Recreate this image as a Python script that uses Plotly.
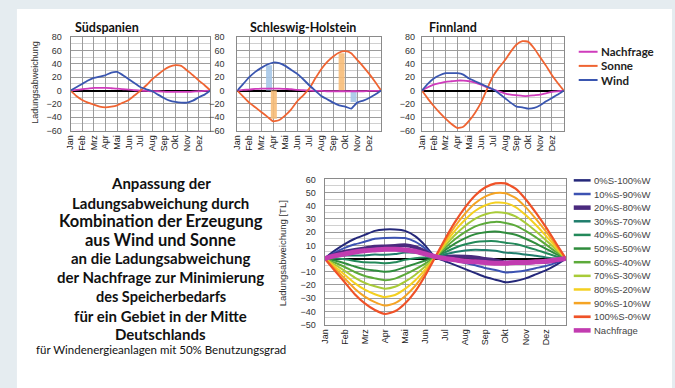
import plotly.graph_objects as go

# ---------------------------------------------------------------- data
MONTHS = ["Jan", "Feb", "Mrz", "Apr", "Mai", "Jun", "Jul", "Aug", "Sep", "Okt", "Nov", "Dez"]
# time axis in months: 0 = 1 Jan, 12 = 31 Dez, half-month steps
t = [0, 0.5, 1, 1.5, 2, 2.5, 3, 3.5, 4, 4.5, 5, 5.5, 6,
     6.5, 7, 7.5, 8, 8.5, 9, 9.5, 10, 10.5, 11, 11.5, 12]

# Südspanien
sp_nachfrage = [0, 1, 2, 3, 4, 4, 4, 3.5, 3, 2, 1.5, 0.5, 0, -0.5, -1, -1, -1.5, -2, -2, -2, -2, -1.5, -1, -0.5, 0]
sp_sonne = [0, -8, -14, -18, -21, -24, -25, -24, -22, -18, -14, -7, 0, 8, 17, 24, 31, 36, 38, 37, 30, 23, 15, 8, 0]
sp_wind = [0, 5, 10, 15, 19, 21, 23, 27, 28, 23, 17, 11, 5, 2, -1, -6, -11, -15, -17, -18, -18, -15, -10, -6, 0]

# Schleswig-Holstein
sh_nachfrage = [0, 1, 1.5, 2.5, 3, 3, 3, 3, 2.5, 2, 1, 0.5, 0, -0.5, -0.5, -1, -1, -1, -1, -1, -1, -1, -0.5, -0.5, 0]
sh_sonne = [0, -9, -18, -25, -32, -39, -46, -44, -37, -28, -16, -7, 3, 18, 32, 43, 51, 57, 59, 56, 46, 36, 25, 13, 0]
sh_wind = [0, 10, 20, 28, 34, 39, 42, 41, 37, 31, 25, 17, 8, 0, -8, -13, -18, -22, -24, -27, -18, -15, -11, -6, 0]
# shaded columns marking the seasonal amplitudes
sh_mark_x = [2.65, 3.05, 8.7, 9.7]
sh_mark_y = [38, -42, 56, -17]
sh_mark_col = ["#a7c8e8", "#f7bd78", "#f7bd78", "#a7c8e8"]

# Finnland
fi_nachfrage = [0, 5, 9, 11, 13, 14, 15, 15, 14, 12, 9, 5, 2, -1, -4, -6, -7, -8, -8, -7, -6, -4, -2, -1, 0]
fi_sonne = [0, -12, -23, -33, -42, -50, -56, -54, -45, -33, -18, 2, 21, 34, 45, 58, 69, 74, 73, 63, 50, 37, 23, 11, 0]
fi_wind = [0, 10, 18, 23, 26, 26, 26, 24, 18, 14, 10, 6, 2, -4, -11, -18, -24, -25, -27, -26, -22, -16, -11, -6, 0]

# Mitte Deutschlands: mixes of solar share S and wind share W
mix_s0_w100 = [0, 6, 11, 15, 18, 21, 22, 22, 21, 17, 10, 1, -2, -5, -8, -11, -14, -16, -18, -17, -15, -12, -9, -5, 0]
mix_s10_w90 = [0, 4.5, 8.1, 10.8, 12.8, 15, 15.6, 15.8, 15.5, 12.8, 7.7, 1, -0.3, -1.7, -3.3, -5.1, -7.2, -8.7, -10.5, -10, -9, -7.3, -5.7, -3.3, 0]
mix_s20_w80 = [0, 3, 5.2, 6.6, 7.6, 9, 9.2, 9.6, 10, 8.6, 5.4, 1, 1.4, 1.6, 1.4, 0.8, -0.4, -1.4, -3, -3, -3, -2.6, -2.4, -1.6, 0]
mix_s30_w70 = [0, 1.5, 2.3, 2.4, 2.4, 3, 2.8, 3.4, 4.5, 4.4, 3.1, 1, 3.1, 4.9, 6.1, 6.7, 6.4, 5.9, 4.5, 4, 3, 2.1, 0.9, 0.1, 0]
mix_s40_w60 = [0, 0, -0.6, -1.8, -2.8, -3, -3.6, -2.8, -1, 0.2, 0.8, 1, 4.8, 8.2, 10.8, 12.6, 13.2, 13.2, 12, 11, 9, 6.8, 4.2, 1.8, 0]
mix_s50_w50 = [0, -1.5, -3.5, -6, -8, -9, -10, -9, -6.5, -4, -1.5, 1, 6.5, 11.5, 15.5, 18.5, 20, 20.5, 19.5, 18, 15, 11.5, 7.5, 3.5, 0]
mix_s60_w40 = [0, -3, -6.4, -10.2, -13.2, -15, -16.4, -15.2, -12, -8.2, -3.8, 1, 8.2, 14.8, 20.2, 24.4, 26.8, 27.8, 27, 25, 21, 16.2, 10.8, 5.2, 0]
mix_s70_w30 = [0, -4.5, -9.3, -14.4, -18.4, -21, -22.8, -21.4, -17.5, -12.4, -6.1, 1, 9.9, 18.1, 24.9, 30.3, 33.6, 35.1, 34.5, 32, 27, 20.9, 14.1, 6.9, 0]
mix_s80_w20 = [0, -6, -12.2, -18.6, -23.6, -27, -29.2, -27.6, -23, -16.6, -8.4, 1, 11.6, 21.4, 29.6, 36.2, 40.4, 42.4, 42, 39, 33, 25.6, 17.4, 8.6, 0]
mix_s90_w10 = [0, -7.5, -15.1, -22.8, -28.8, -33, -35.6, -33.8, -28.5, -20.8, -10.7, 1, 13.3, 24.7, 34.3, 42.1, 47.2, 49.7, 49.5, 46, 39, 30.3, 20.7, 10.3, 0]
mix_s100_w0 = [0, -9, -18, -27, -34, -39, -42, -40, -34, -25, -13, 1, 15, 28, 39, 48, 54, 57, 57, 53, 45, 35, 24, 12, 0]
de_nachfrage = [0, 2, 3.5, 5, 6, 6.5, 7, 7, 6.5, 5.5, 3.5, 1.5, 0, -1, -2, -2.5, -3, -3.5, -3.5, -3, -3, -2.5, -2, -1, 0]

mix_names = ["0%S-100%W", "10%S-90%W", "20%S-80%W", "30%S-70%W", "40%S-60%W", "50%S-50%W",
             "60%S-40%W", "70%S-30%W", "80%S-20%W", "90%S-10%W", "100%S-0%W", "Nachfrage"]
mix_colors = ["#25287a", "#3c52b2", "#4a2a7e", "#1f7d6c", "#23895a", "#2f8c3c",
              "#5caa3a", "#a8cb38", "#f4d020", "#f5a424", "#ef5228", "#c23cb0"]
mix_widths = [2, 2, 4, 2, 2, 2, 2, 2, 2, 2, 2.2, 5]
mix_series = [mix_s0_w100, mix_s10_w90, mix_s20_w80, mix_s30_w70, mix_s40_w60, mix_s50_w50,
              mix_s60_w40, mix_s70_w30, mix_s80_w20, mix_s90_w10, mix_s100_w0, de_nachfrage]

small_names = ["Nachfrage", "Sonne", "Wind"]
small_colors = ["#cf3cbc", "#ef6432", "#3a56b0"]

# ---------------------------------------------------------------- layout helpers
W, H = 675, 388


def fx(px):
    return px / W


def fy(py):
    return 1 - py / H


GRID = "#9c9c9c"
MINOR = "#d0d0d0"
TICKFONT = dict(family="Liberation Sans, Arial", size=9, color="#333333")

fig = go.Figure()

# ---------------------------------------------------------------- small charts
regions = [
    ("x", "y", [sp_nachfrage, sp_sonne, sp_wind]),
    ("x2", "y2", [sh_nachfrage, sh_sonne, sh_wind]),
    ("x3", "y3", [fi_nachfrage, fi_sonne, fi_wind]),
]

# shaded amplitude columns (Schleswig-Holstein)
for xm, ym, cm in zip(sh_mark_x, sh_mark_y, sh_mark_col):
    fig.add_trace(go.Bar(x=[xm], y=[ym], base=0, width=0.5, marker=dict(color=cm, line=dict(width=0)),
                         opacity=0.9, xaxis="x2", yaxis="y2", showlegend=False, hoverinfo="skip"))

for xa, ya, series in regions:
    for name, col, vals in zip(small_names, small_colors, series):
        fig.add_trace(go.Scatter(x=t, y=vals, mode="lines", name=name, xaxis=xa, yaxis=ya,
                                 line=dict(color=col, width=1.8, shape="spline", smoothing=0.5),
                                 showlegend=False))

# ---------------------------------------------------------------- main chart
for name, col, w, vals in zip(mix_names, mix_colors, mix_widths, mix_series):
    fig.add_trace(go.Scatter(x=t, y=vals, mode="lines", name=name, xaxis="x4", yaxis="y4",
                             line=dict(color=col, width=w, shape="spline", smoothing=0.5),
                             showlegend=False))


def month_axis(domain, anchor):
    return dict(domain=domain, anchor=anchor, range=[0, 12], tickmode="array",
                tickvals=list(range(12)), ticktext=MONTHS, tickangle=-90,
                tickfont=dict(family="Liberation Sans, Arial", size=9, color="#222222"),
                showgrid=True, gridcolor=GRID, gridwidth=1, zeroline=False,
                showline=True, linecolor="#8a8a8a", mirror=True, ticks="", fixedrange=True)


def value_axis(domain, anchor, lo, hi, step, minor_step):
    return dict(domain=domain, anchor=anchor, range=[lo, hi], tickmode="linear", tick0=lo, dtick=step,
                tickfont=TICKFONT, showgrid=True, gridcolor=GRID, gridwidth=1,
                minor=dict(dtick=minor_step, tick0=lo, showgrid=True, gridcolor=MINOR, gridwidth=1),
                zeroline=True, zerolinecolor="#000000", zerolinewidth=2,
                showline=True, linecolor="#8a8a8a", mirror=True, ticks="",
                ticklabelstandoff=4, fixedrange=True)


ydom_small = [fy(129), fy(33)]
fig.update_layout(
    xaxis=month_axis([fx(66), fx(207)], "y"),
    yaxis=value_axis(ydom_small, "x", -60, 80, 20, 10),
    xaxis2=month_axis([fx(234), fx(379)], "y2"),
    yaxis2=value_axis(ydom_small, "x2", -60, 80, 20, 10),
    xaxis3=month_axis([fx(420), fx(563)], "y3"),
    yaxis3=value_axis(ydom_small, "x3", -60, 80, 20, 10),
    xaxis4=month_axis([fx(322), fx(565)], "y4"),
    yaxis4=value_axis([fy(328), fy(179)], "x4", -50, 60, 10, 5),
)
fig.update_layout(yaxis2=dict(ticklabelstandoff=10), yaxis4=dict(ticklabelstandoff=6),
                  yaxis=dict(ticklabelstandoff=6))

# ---------------------------------------------------------------- frame, titles, text
shapes = [dict(type="rect", xref="paper", yref="paper", x0=fx(12), x1=fx(672), y0=-0.02, y1=fy(4),
               fillcolor="white", line=dict(width=0), layer="below")]

annotations = []
TITLE_FONT = dict(family="Lato, Open Sans", size=12.5, color="#111111", weight="bold")
for txt, cx in [("Südspanien", 103), ("Schleswig-Holstein", 300), ("Finnland", 451)]:
    annotations.append(dict(text=txt, x=fx(cx), y=fy(23), xref="paper", yref="paper",
                            showarrow=False, xanchor="center", yanchor="middle", font=TITLE_FONT))

annotations.append(dict(text="Ladungsabweichung", x=fx(30), y=fy(79), xref="paper", yref="paper",
                        showarrow=False, textangle=-90, xanchor="center", yanchor="middle",
                        font=dict(family="Liberation Sans, Arial", size=9, color="#333333")))
annotations.append(dict(text="Ladungsabweichung [TL]", x=fx(279), y=fy(255), xref="paper", yref="paper",
                        showarrow=False, textangle=-90, xanchor="center", yanchor="middle",
                        font=dict(family="Liberation Sans, Arial", size=9.5, color="#333333")))

# descriptive text block
block = [
    ("Anpassung der", 183, 15, "bold"),
    ("Ladungsabweichung durch", 203, 15, "bold"),
    ("Kombination der Erzeugung", 222, 16.5, "bold"),
    ("aus Wind und Sonne", 241, 16.5, "bold"),
    ("an die Ladungsabweichung", 260, 15, "bold"),
    ("der Nachfrage zur Minimierung", 279, 15, "bold"),
    ("des Speicherbedarfs", 299, 14.5, "bold"),
    ("für ein Gebiet in der Mitte", 319, 15, "bold"),
    ("Deutschlands", 338, 15, "bold"),
    ("für Windenergieanlagen mit 50% Benutzungsgrad", 354, 11.5, "normal"),
]
for txt, py, size, weight in block:
    annotations.append(dict(text=txt, x=fx(157), y=fy(py), xref="paper", yref="paper",
                            showarrow=False, xanchor="center", yanchor="middle",
                            font=dict(family="Lato, Open Sans", size=size, color="#111111", weight=weight)))

# legend of the three regional charts
for i, (name, col) in enumerate(zip(small_names, small_colors)):
    py = 48 + 14.5 * i
    shapes.append(dict(type="line", xref="paper", yref="paper", x0=fx(578), x1=fx(597),
                       y0=fy(py), y1=fy(py), line=dict(color=col, width=2)))
    annotations.append(dict(text=name, x=fx(598), y=fy(py), xref="paper", yref="paper",
                            showarrow=False, xanchor="left", yanchor="middle",
                            font=dict(family="Lato, Open Sans", size=11.5, color="#222222", weight="bold")))

# legend of the mix chart
for i, (name, col, w) in enumerate(zip(mix_names, mix_colors, mix_widths)):
    py = 180 + 14 * i
    shapes.append(dict(type="line", xref="paper", yref="paper", x0=fx(573), x1=fx(590),
                       y0=fy(py), y1=fy(py), line=dict(color=col, width=min(w, 4) + 0.5)))
    annotations.append(dict(text=name, x=fx(591), y=fy(py), xref="paper", yref="paper",
                            showarrow=False, xanchor="left", yanchor="middle",
                            font=dict(family="Liberation Sans, Arial", size=9.5, color="#444444")))

fig.update_layout(
    width=W, height=H, margin=dict(l=0, r=0, t=0, b=0),
    paper_bgcolor="#e5ecf0", plot_bgcolor="white",
    barmode="overlay", showlegend=False,
    shapes=shapes, annotations=annotations,
)

fig.write_html("out.html")
